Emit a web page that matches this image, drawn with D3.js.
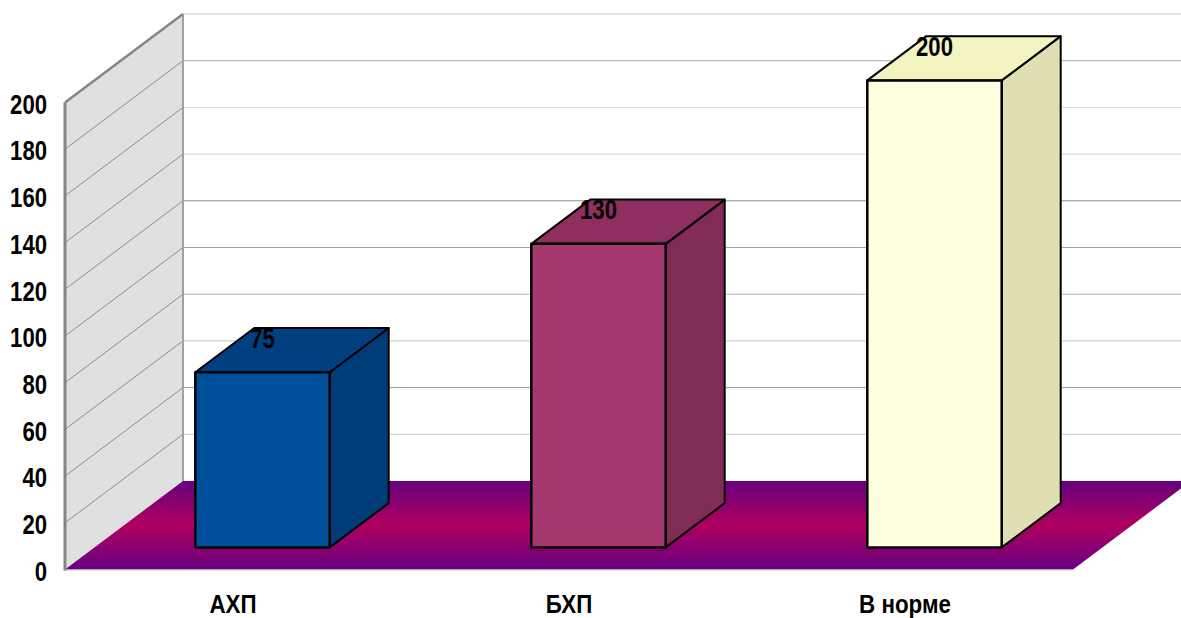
<!DOCTYPE html>
<html>
<head>
<meta charset="utf-8">
<script src="https://cdn.jsdelivr.net/npm/d3@7/dist/d3.min.js"></script>
<style>
  html, body { margin: 0; padding: 0; background: #fff; }
  svg { display: block; }
  text { font-family: "Liberation Sans", sans-serif; font-weight: 700; fill: #000; }
</style>
</head>
<body>
<svg id="chart" width="1181" height="618"></svg>
<script>
// Series
const categories = ["АХП", "БХП", "В норме"];
const values = [75, 130, 200];
const yTicks = [0, 20, 40, 60, 80, 100, 120, 140, 160, 180, 200];
const barFills = [
  { front: "#004f9a", top: "#003f80", side: "#003c77" },
  { front: "#a5386f", top: "#8e2f60", side: "#812b57" },
  { front: "#ffffe0", top: "#f4f4c3", side: "#e0dfb3" }
];
// Back-plane rule shades, lowest tick first
const backRuleShades = ["#c8c8c8", "#9c9c9c", "#c4c4c4", "#b4b4b4", "#a4a4a4", "#8c8c8c", "#d4d4d4", "#dcdcdc", "#acacac", "#cccccc"];

const width = 1181, height = 618;
const floorLeft = 65, floorRight = 1073;
const floorDepth = { dx: 118, dy: -88.5 };
const barDepth = { dx: 59, dy: -44.25 };
const barInset = { dx: 29.5, dy: -22.1 };
const textSqueeze = 0.82;

const y = d3.scaleLinear().domain([0, 200]).range([569.5, 102.5]);
const x = d3.scaleBand().domain(categories).range([floorLeft, floorRight]).paddingInner(0.6).paddingOuter(0.3);

const svg = d3.select("#chart");
const poly = pts => pts.map(p => p.join(",")).join(" ");

// Floor gradient: violet at both edges, crimson through the middle
const grad = svg.append("defs").append("linearGradient")
  .attr("id", "floorFill").attr("x1", 0).attr("y1", 0).attr("x2", 0).attr("y2", 1);
[[0, "#660080"], [0.5, "#b00060"], [1, "#660080"]].forEach(([o, c]) =>
  grad.append("stop").attr("offset", o).attr("stop-color", c));

// Left wall
const x0 = floorLeft, x1 = floorLeft + floorDepth.dx;
svg.append("polygon")
  .attr("points", poly([[x0, y(200)], [x1, y(200) + floorDepth.dy], [x1, y(0) + floorDepth.dy], [x0, y(0)]]))
  .attr("fill", "#e0e0e0");

// Gridlines across the wall and along the back plane
const grid = svg.append("g").attr("fill", "none").attr("stroke-width", 1);
yTicks.filter(t => t > 0).forEach((t, i) => {
  const by = y(t) + floorDepth.dy;
  if (t < 200) {
    grid.append("line").attr("x1", x0).attr("y1", y(t)).attr("x2", x1).attr("y2", by)
      .attr("stroke", "#8c8c8c");
  }
  grid.append("line").attr("x1", x1).attr("y1", by).attr("x2", width).attr("y2", by)
    .attr("stroke", backRuleShades[i]);
});

// Wall edges
svg.append("line").attr("x1", x1).attr("y1", y(200) + floorDepth.dy).attr("x2", x1).attr("y2", y(0) + floorDepth.dy)
  .attr("stroke", "#a0a0a0").attr("stroke-width", 2);
svg.append("line").attr("x1", x0).attr("y1", y(200)).attr("x2", x1).attr("y2", y(200) + floorDepth.dy)
  .attr("stroke", "#858585").attr("stroke-width", 2.5);

// Floor
svg.append("polygon")
  .attr("points", poly([[x0, y(0)], [x1, y(0) + floorDepth.dy],
    [floorRight + floorDepth.dx, y(0) + floorDepth.dy], [floorRight, y(0)]]))
  .attr("fill", "url(#floorFill)");
svg.append("line").attr("x1", x0).attr("y1", y(0) + 0.5).attr("x2", floorRight).attr("y2", y(0) + 0.5)
  .attr("stroke", "#c4c4c4").attr("stroke-width", 1);
svg.append("line").attr("x1", x0).attr("y1", y(200)).attr("x2", x0).attr("y2", y(0) + 1)
  .attr("stroke", "#858585").attr("stroke-width", 3);

// 3D bars: each box sits a quarter of the way into the floor depth
const bars = svg.append("g").selectAll("g").data(categories).join("g")
  .attr("stroke", "#000").attr("stroke-width", 2).attr("stroke-linejoin", "round");
bars.each(function (c, i) {
  const g = d3.select(this);
  const l = x(c) + barInset.dx, r = l + x.bandwidth();
  const b = y(0) + barInset.dy, t = y(values[i]) + barInset.dy;
  const { dx, dy } = barDepth;
  g.append("polygon").attr("fill", barFills[i].side)
    .attr("points", poly([[r, b], [r + dx, b + dy], [r + dx, t + dy], [r, t]]));
  g.append("polygon").attr("fill", barFills[i].top)
    .attr("points", poly([[l, t], [r, t], [r + dx, t + dy], [l + dx, t + dy]]));
  g.append("rect").attr("x", l).attr("y", t).attr("width", r - l).attr("height", b - t)
    .attr("fill", barFills[i].front).attr("stroke-width", 2.5);
});

// Value labels above each box front, set in a horizontally squeezed face
svg.append("g").selectAll("text").data(categories).join("text")
  .attr("transform", (c, i) => {
    const px = x(c) + barInset.dx + x.bandwidth() / 2;
    const py = y(values[i]) + barInset.dy - 24.5;
    return `translate(${px},${py}) scale(${textSqueeze},1)`;
  })
  .attr("text-anchor", "middle").attr("font-size", 27)
  .text((c, i) => values[i]);

// Value axis, without its domain line or tick marks
const yAxis = svg.append("g").attr("transform", "translate(47,0)")
  .call(d3.axisLeft(y).tickValues(yTicks).tickSize(0).tickPadding(0));
yAxis.select(".domain").remove();
yAxis.selectAll("text")
  .attr("x", 0).attr("y", 1).attr("dy", "0.36em")
  .attr("font-size", 27)
  .attr("transform", `scale(${textSqueeze},1)`);

// Category axis; the size keeps the glyph boxes inside the frame
const xAxis = svg.append("g").attr("transform", "translate(0,604)")
  .call(d3.axisBottom(x).tickSize(0).tickPadding(0));
xAxis.select(".domain").remove();
xAxis.selectAll("text")
  .attr("y", 0).attr("dy", "0.34em")
  .attr("font-size", 26)
  .attr("transform", "scale(0.86,1)");
</script>
</body>
</html>
